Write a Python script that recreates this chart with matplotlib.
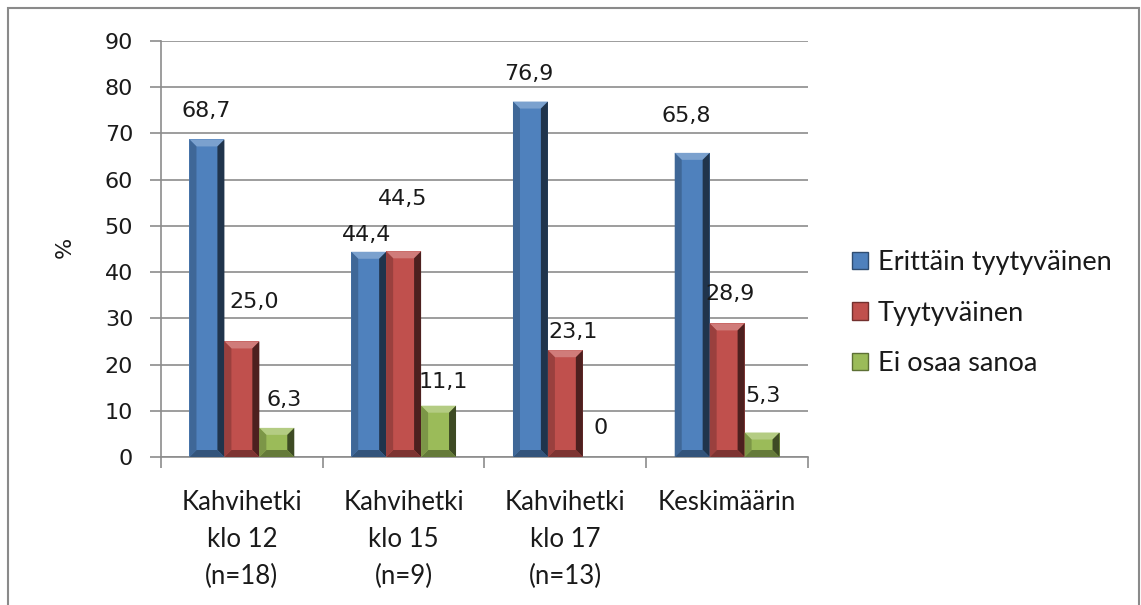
import numpy as np
import matplotlib
matplotlib.use("Agg")
import matplotlib.pyplot as plt
from matplotlib.patches import Polygon, Rectangle, Patch
from matplotlib.colors import to_rgb

categories = ["Kahvihetki\nklo 12\n(n=18)", "Kahvihetki\nklo 15\n(n=9)",
              "Kahvihetki\nklo 17\n(n=13)", "Keskimäärin"]
series_names = ["Erittäin tyytyväinen", "Tyytyväinen", "Ei osaa sanoa"]
erittain = [68.7, 44.4, 76.9, 65.8]
tyytyvainen = [25.0, 44.5, 23.1, 28.9]
ei_osaa = [6.3, 11.1, 0.0, 5.3]
y_ticks = [0, 10, 20, 30, 40, 50, 60, 70, 80, 90]

colors = ["#4F81BD", "#C0504D", "#9BBB59"]
# label nudges (pixels, dx / dy above bar top), mimic Excel placement
label_nudge = [
    [(-1, 28), (-2, 17), (-2, 28), (-6, 37)],
    [(12, 39), (-1, 52), (8, 18), (3, 29)],
    [(7, 28), (5, 24), (0, 29), (1, 37)],
]

W, H = 1141, 605
fig = plt.figure(figsize=(W / 100, H / 100), dpi=100)
ax = fig.add_axes([161 / W, 1 - 457 / H, (808 - 161) / W, (457 - 41) / H])

grid_c = "#8C8C8C"
txt_c = "#1A1A1A"
num_font = ["DejaVu Sans"]
lab_font = ["Lato", "DejaVu Sans"]


def shade(c, f):
    r = np.array(to_rgb(c))
    if f >= 0:
        return tuple(r + (1 - r) * f)
    return tuple(r * (1 + f))


def bevel(ax, x0, w, h, c):
    if h <= 0:
        return
    bx = 7 / (647 / 4)
    by = min(7 / (416 / 90), h / 2)
    x1 = x0 + w
    faces = [
        ([(x0, h), (x1, h), (x1 - bx, h - by), (x0 + bx, h - by)], shade(c, 0.25)),
        ([(x1, h), (x1, 0), (x1 - bx, by), (x1 - bx, h - by)], shade(c, -0.6)),
        ([(x0, 0), (x1, 0), (x1 - bx, by), (x0 + bx, by)], shade(c, -0.35)),
        ([(x0, 0), (x0, h), (x0 + bx, h - by), (x0 + bx, by)], shade(c, -0.2)),
    ]
    for pts, fc in faces:
        ax.add_patch(Polygon(pts, closed=True, fc=fc, ec="none", zorder=3))


x = np.arange(len(categories))
bw = 0.216
all_series = [erittain, tyytyvainen, ei_osaa]
for s, (vals, col) in enumerate(zip(all_series, colors)):
    pos = x + (s - 1) * bw
    bars = ax.bar(pos, vals, width=bw, color=col, edgecolor="none", zorder=2)
    for i, (b, v) in enumerate(zip(bars, vals)):
        bevel(ax, b.get_x(), b.get_width(), b.get_height(), col)
        txt = f"{v:.1f}".replace(".", ",") if v else "0"
        dx, dy = label_nudge[s][i]
        ax.annotate(txt, (b.get_x() + b.get_width() / 2, v),
                    xytext=(dx * 0.72, dy * 0.72), textcoords="offset points",
                    ha="center", va="center", fontsize=16, family=num_font,
                    color=txt_c, zorder=4)

ax.set_xlim(-0.5, len(categories) - 0.5)
ax.set_ylim(0, 90)
ax.set_yticks(y_ticks)
ax.set_yticklabels([str(t) for t in y_ticks], family=num_font, fontsize=16, color=txt_c)
ax.yaxis.grid(True, color=grid_c, lw=1.2, zorder=0)
ax.set_axisbelow(True)

ax.set_xticks(np.arange(-0.5, len(categories), 1.0))
ax.set_xticklabels([])
ax.set_xticks(x, minor=True)
ax.set_xticklabels(categories, minor=True, family=lab_font, fontsize=18.5,
                   color=txt_c, linespacing=1.6)
ax.tick_params(axis="x", which="major", length=8, color=grid_c, width=1.2)
ax.tick_params(axis="x", which="minor", length=0, pad=24)
ax.tick_params(axis="y", length=8, color=grid_c, width=1.2, pad=12)

for side in ["top", "right"]:
    ax.spines[side].set_visible(False)
for side in ["left", "bottom"]:
    ax.spines[side].set_color(grid_c)
    ax.spines[side].set_linewidth(1.2)

fig.text(65 / W, 1 - 247 / H, "%", rotation=90, ha="center", va="center",
         fontsize=16, family=num_font, color=txt_c)

handles = [Patch(fc=c, ec=shade(c, -0.4), lw=1) for c in colors]
fig.legend(handles, series_names, loc="center left",
           bbox_to_anchor=(852 / W, 1 - 313 / H), frameon=False,
           prop={"family": lab_font, "size": 19.5}, handlelength=0.6,
           handleheight=0.6, handletextpad=0.35, labelspacing=0.95,
           borderpad=0, borderaxespad=0, labelcolor=txt_c)

fig.patches.append(Rectangle((8 / W, -0.02), (1139 - 8) / W, 1 - 8 / H + 0.02,
                             transform=fig.transFigure, fill=False,
                             ec="#8A8A8A", lw=1.5))

fig.savefig("out.png", dpi=100)
